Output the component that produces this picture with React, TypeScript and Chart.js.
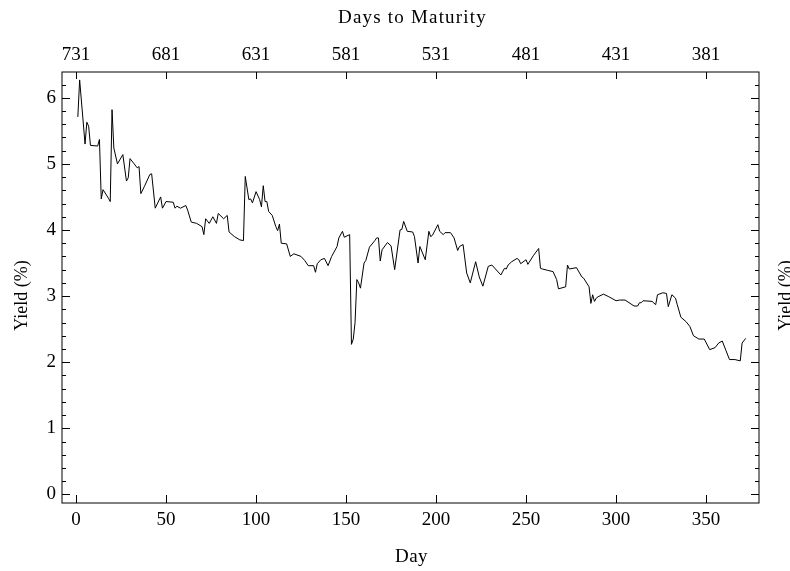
import React, { useEffect, useRef } from "react";
import { Chart, registerables } from "chart.js";

Chart.register(...registerables);

const DAYS = [
  1, 2, 5, 6, 7, 8, 12, 13, 14, 15, 18, 19, 20, 21, 23, 26, 28, 29, 30, 32,
  34, 35, 36, 38, 41, 42, 44, 47, 48, 50, 54, 55, 56, 58, 61, 62, 64, 67, 70, 71,
  72, 74, 76, 78, 79, 82, 84, 85, 88, 91, 93, 94, 96, 97, 98, 100, 102, 103, 104, 105,
  106, 107, 109, 111, 112, 113, 114, 117, 119, 121, 125, 127, 129, 132, 133, 134, 136, 138, 140, 142,
  145, 146, 148, 149, 152, 153, 154, 155, 156, 157, 158, 160, 161, 163, 166, 167, 168, 169, 170, 173,
  175, 177, 180, 181, 182, 184, 187, 188, 190, 191, 194, 196, 197, 198, 201, 202, 204, 205, 208, 210,
  212, 213, 215, 217, 219, 222, 224, 226, 229, 231, 233, 236, 238, 239, 240, 242, 245, 246, 247, 250,
  251, 254, 257, 258, 259, 262, 265, 267, 268, 272, 273, 274, 278, 281, 282, 285, 286, 287, 288, 289,
  290, 293, 296, 300, 302, 305, 310, 312, 313, 314, 315, 320, 322, 323, 326, 328, 329, 331, 333, 334,
  336, 339, 341, 343, 346, 349, 352, 355, 357, 359, 361, 363, 366, 369, 370, 372,
];

const YIELDS = [
  5.71, 6.27, 5.3, 5.63, 5.57, 5.28, 5.27, 5.37, 4.47, 4.61, 4.48, 4.43, 5.82, 5.24, 5.0, 5.14, 4.74, 4.79, 5.08, 5.01,
  4.94, 4.96, 4.55, 4.66, 4.84, 4.85, 4.33, 4.5, 4.33, 4.43, 4.42, 4.33, 4.36, 4.33, 4.37, 4.3, 4.12, 4.1, 4.05, 3.93,
  4.17, 4.1, 4.2, 4.1, 4.25, 4.17, 4.22, 3.97, 3.9, 3.85, 3.84, 4.81, 4.46, 4.47, 4.41, 4.58, 4.46, 4.35, 4.67, 4.43,
  4.43, 4.28, 4.22, 4.05, 3.99, 4.09, 3.8, 3.79, 3.6, 3.64, 3.6, 3.54, 3.46, 3.46, 3.36, 3.49, 3.55, 3.57, 3.46, 3.6,
  3.75, 3.88, 3.98, 3.89, 3.93, 2.27, 2.35, 2.6, 3.25, 3.2, 3.12, 3.5, 3.54, 3.74, 3.84, 3.88, 3.88, 3.53, 3.7, 3.81,
  3.76, 3.4, 4.0, 4.01, 4.13, 3.98, 3.97, 3.9, 3.5, 3.75, 3.55, 3.98, 3.9, 3.92, 4.08, 3.98, 3.93, 3.96, 3.96, 3.88,
  3.69, 3.75, 3.78, 3.35, 3.2, 3.52, 3.29, 3.15, 3.45, 3.47, 3.41, 3.32, 3.42, 3.41, 3.47, 3.52, 3.57, 3.55, 3.49, 3.55,
  3.48, 3.61, 3.72, 3.42, 3.41, 3.39, 3.37, 3.25, 3.11, 3.14, 3.47, 3.41, 3.43, 3.29, 3.27, 3.14, 2.89, 3.02, 2.92, 2.97,
  2.99, 3.03, 2.99, 2.93, 2.94, 2.94, 2.85, 2.85, 2.9, 2.9, 2.93, 2.92, 2.87, 3.02, 3.05, 3.04, 2.84, 3.02, 2.97, 2.87,
  2.68, 2.61, 2.54, 2.4, 2.35, 2.35, 2.19, 2.22, 2.29, 2.32, 2.18, 2.04, 2.04, 2.02, 2.29, 2.36,
];

const X_TICKS = [0, 50, 100, 150, 200, 250, 300, 350];
const Y_TICKS = [0, 1, 2, 3, 4, 5, 6];
const MATURITY_START = 731;
const X_MIN = -7.8;
const X_MAX = 379.4;
const Y_MIN = -0.13;
const Y_MAX = 6.39;
const Y_MINOR_STEP = 0.2;

const FONT = "'Liberation Serif', 'Times New Roman', serif";

export default function App() {
  const ref = useRef<HTMLCanvasElement>(null);

  useEffect(() => {
    if (!ref.current) return;

    const framePlugin = {
      id: "frameAndTitles",
      afterDraw(chart: any) {
        const { ctx, chartArea: a, scales } = chart;
        const xs = scales.x;
        const ys = scales.y;
        ctx.save();
        ctx.strokeStyle = "#000";
        ctx.lineWidth = 1;
        ctx.strokeRect(a.left, a.top, a.right - a.left, a.bottom - a.top);
        ctx.beginPath();
        X_TICKS.forEach((v) => {
          const px = Math.round(xs.getPixelForValue(v)) + 0.5;
          ctx.moveTo(px, a.bottom);
          ctx.lineTo(px, a.bottom - 8);
          ctx.moveTo(px, a.top);
          ctx.lineTo(px, a.top + 7);
        });
        for (let i = 0; i * Y_MINOR_STEP <= Y_MAX + 1e-9; i++) {
          const v = i * Y_MINOR_STEP;
          const major = i % 5 === 0;
          const py = Math.round(ys.getPixelForValue(v)) + 0.5;
          const len = major ? 8 : 4;
          ctx.moveTo(a.left, py);
          ctx.lineTo(a.left + len, py);
          ctx.moveTo(a.right, py);
          ctx.lineTo(a.right - len, py);
        }
        ctx.stroke();

        const cx = (a.left + a.right) / 2 + 1;
        const cy = (a.top + a.bottom) / 2 + 8;
        ctx.fillStyle = "#000";
        ctx.font = `19px ${FONT}`;
        ctx.textAlign = "center";
        ctx.textBaseline = "middle";
        (ctx as any).letterSpacing = "1.2px";
        ctx.fillText("Days to Maturity", cx + 1, 18);
        (ctx as any).letterSpacing = "0.5px";
        ctx.fillText("Day", cx, 557);
        (ctx as any).letterSpacing = "0px";
        ctx.font = `18px ${FONT}`;
        ctx.save();
        ctx.translate(22, cy);
        ctx.rotate(-Math.PI / 2);
        ctx.fillText("Yield (%)", 0, 0);
        ctx.restore();
        ctx.save();
        ctx.translate(786, cy);
        ctx.rotate(-Math.PI / 2);
        ctx.fillText("Yield (%)", 0, 0);
        ctx.restore();
        ctx.restore();
      },
    };

    const tickFont = { family: FONT, size: 19 };

    const chart = new Chart(ref.current, {
      type: "line",
      data: {
        datasets: [
          {
            data: DAYS.map((d, i) => ({ x: d, y: YIELDS[i] })),
            borderColor: "#000",
            borderWidth: 1,
            pointRadius: 0,
            tension: 0,
            fill: false,
          },
        ],
      },
      options: {
        responsive: false,
        animation: false,
        layout: { padding: { left: 0, right: 31, top: 0, bottom: 0 } },
        plugins: { legend: { display: false }, tooltip: { enabled: false } },
        scales: {
          x: {
            type: "linear",
            position: "bottom",
            min: X_MIN,
            max: X_MAX,
            grid: { display: false, drawTicks: false },
            border: { display: false },
            ticks: { padding: 6, font: tickFont, color: "#000", maxRotation: 0 },
            afterBuildTicks: (s: any) => {
              s.ticks = X_TICKS.map((v) => ({ value: v }));
            },
            afterFit: (s: any) => {
              s.height = 68;
            },
          },
          x2: {
            type: "linear",
            position: "top",
            min: X_MIN,
            max: X_MAX,
            grid: { display: false, drawTicks: false },
            border: { display: false },
            ticks: {
              padding: 6,
              font: tickFont,
              color: "#000",
              maxRotation: 0,
              callback: (v: any) => String(MATURITY_START - Number(v)),
            },
            afterBuildTicks: (s: any) => {
              s.ticks = X_TICKS.map((v) => ({ value: v }));
            },
            afterFit: (s: any) => {
              s.height = 72;
            },
          },
          y: {
            type: "linear",
            position: "left",
            min: Y_MIN,
            max: Y_MAX,
            grid: { display: false, drawTicks: false },
            border: { display: false },
            ticks: { padding: 6, font: tickFont, color: "#000" },
            afterBuildTicks: (s: any) => {
              s.ticks = Y_TICKS.map((v) => ({ value: v }));
            },
            afterFit: (s: any) => {
              s.width = 62;
            },
          },
        },
      },
      plugins: [framePlugin],
    } as any);

    return () => chart.destroy();
  }, []);

  return (
    <div style={{ position: "fixed", left: 0, top: 0, width: 790, height: 571, background: "#fff" }}>
      <canvas ref={ref} width={790} height={571} style={{ width: 790, height: 571, display: "block" }} />
    </div>
  );
}
